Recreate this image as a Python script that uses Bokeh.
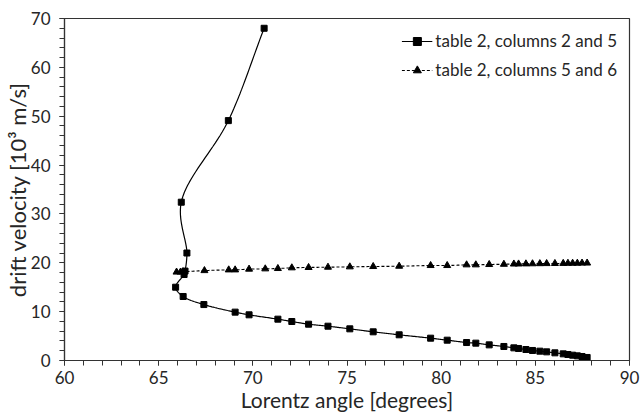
import numpy as np
from bokeh.plotting import figure
from bokeh.models import SingleIntervalTicker, Range1d
from bokeh.embed import file_html
from bokeh.resources import INLINE

# Series 1: table 2, columns 2 and 5 (Lorentz angle [deg], drift velocity [10^3 m/s])
s1_angle = [70.6, 68.7, 66.2, 66.5, 66.4, 66.35, 65.9, 66.3, 67.4, 69.06, 69.8,
            71.33, 72.07, 72.96, 73.99, 75.15, 76.39, 77.77, 79.44, 80.32, 81.35,
            81.84, 82.55, 83.33, 83.86, 84.11, 84.5, 84.85, 85.24, 85.6, 86.04,
            86.48, 86.73, 86.98, 87.23, 87.48, 87.75]
s1_vel = [68.0, 49.1, 32.4, 22.0, 18.3, 17.6, 15.0, 13.1, 11.45, 9.9, 9.35,
          8.46, 7.98, 7.43, 7.02, 6.48, 5.87, 5.26, 4.57, 4.16, 3.68,
          3.55, 3.2, 2.87, 2.59, 2.46, 2.25, 2.05, 1.91, 1.77, 1.57,
          1.36, 1.23, 1.09, 0.95, 0.82, 0.62]

# Series 2: table 2, columns 5 and 6
s2_angle = [65.95, 66.16, 66.3, 67.43, 68.72, 69.06, 69.8, 70.66, 71.33, 72.07,
            72.96, 73.99, 75.15, 76.39, 77.77, 79.44, 80.32, 81.35, 81.84, 82.55,
            83.33, 83.86, 84.11, 84.5, 84.85, 85.24, 85.6, 86.04, 86.48, 86.73,
            86.98, 87.23, 87.48, 87.75]
s2_vel = [18.1, 18.1, 18.15, 18.4, 18.55, 18.55, 18.7, 18.76, 18.83, 18.97,
          19.04, 19.1, 19.17, 19.24, 19.3, 19.44, 19.44, 19.58, 19.58, 19.65,
          19.7, 19.75, 19.76, 19.78, 19.8, 19.82, 19.84, 19.86, 19.88, 19.9,
          19.91, 19.92, 19.94, 19.95]

x_ticks_interval = 5
y_ticks_interval = 10

FONT = "Lato"
TXT = "#262626"


def smooth(xs, ys, n=24):
    """Spreadsheet-like smoothed line (centripetal Catmull-Rom in screen space)."""
    sx, sy = 18.83, 4.886  # approx px per data unit, for parameterisation only
    P = np.column_stack([np.asarray(xs) * sx, np.asarray(ys) * sy]).astype(float)
    m = len(P)
    out = [P[0]]
    for i in range(m - 1):
        p1 = P[i]
        p2 = P[i + 1]
        p0 = P[i - 1] if i > 0 else 2 * p1 - p2
        p3 = P[i + 2] if i + 2 < m else 2 * p2 - p1
        d01 = max(np.linalg.norm(p1 - p0) ** 0.5, 1e-6)
        d12 = max(np.linalg.norm(p2 - p1) ** 0.5, 1e-6)
        d23 = max(np.linalg.norm(p3 - p2) ** 0.5, 1e-6)
        m1 = (p1 - p0) / d01 - (p2 - p0) / (d01 + d12) + (p2 - p1) / d12
        m2 = (p2 - p1) / d12 - (p3 - p1) / (d12 + d23) + (p3 - p2) / d23
        m1 *= d12
        m2 *= d12
        t = np.linspace(0, 1, n)[1:, None]
        h00 = 2 * t ** 3 - 3 * t ** 2 + 1
        h10 = t ** 3 - 2 * t ** 2 + t
        h01 = -2 * t ** 3 + 3 * t ** 2
        h11 = t ** 3 - t ** 2
        seg = h00 * p1 + h10 * m1 + h01 * p2 + h11 * m2
        out.extend(seg)
    out = np.array(out)
    return out[:, 0] / sx, out[:, 1] / sy


p = figure(width=641, height=420, output_backend="svg", toolbar_location=None,
           x_range=Range1d(60, 90), y_range=Range1d(0, 70),
           min_border_left=64, min_border_right=12, min_border_top=18, min_border_bottom=60)

p.xgrid.visible = False
p.ygrid.visible = False
p.outline_line_color = "#333333"
p.outline_line_width = 1.2
p.background_fill_color = "white"
p.border_fill_color = "white"

l1x, l1y = smooth(s1_angle, s1_vel)
l2x, l2y = smooth(s2_angle, s2_vel)

lab1 = "table 2, columns 2 and 5"
lab2 = "table 2, columns 5 and 6"

p.line(l1x, l1y, line_color="black", line_width=1.2, legend_label=lab1)
p.scatter(s1_angle, s1_vel, marker="square", size=6, fill_color="black",
          line_color="black", legend_label=lab1)

p.line(l2x, l2y, line_color="black", line_width=1.1, line_dash="3 2", legend_label=lab2)
p.scatter(s2_angle, s2_vel, marker="triangle", size=7, fill_color="black",
          line_color="black", legend_label=lab2)

p.xaxis.ticker = SingleIntervalTicker(interval=x_ticks_interval, num_minor_ticks=5)
p.yaxis.ticker = SingleIntervalTicker(interval=y_ticks_interval, num_minor_ticks=5)

for ax in (p.xaxis[0], p.yaxis[0]):
    ax.axis_line_color = "#333333"
    ax.axis_line_width = 1.2
    ax.major_tick_line_color = "#333333"
    ax.minor_tick_line_color = "#333333"
    ax.major_tick_in = 0
    ax.major_tick_out = 5
    ax.minor_tick_in = 0
    ax.minor_tick_out = 5
    ax.major_label_text_font = FONT
    ax.major_label_text_font_size = "17px"
    ax.major_label_text_color = TXT
    ax.axis_label_text_font = FONT
    ax.axis_label_text_font_style = "normal"
    ax.axis_label_text_color = TXT

p.xaxis.axis_label = "Lorentz angle [degrees]"
p.yaxis.axis_label = "drift velocity [10³ m/s]"
p.xaxis.axis_label_text_font_size = "21px"
p.yaxis.axis_label_text_font_size = "22px"
p.xaxis.major_label_standoff = 5
p.xaxis.axis_label_standoff = 0
p.yaxis.major_label_standoff = 9
p.yaxis.axis_label_standoff = -3

lg = p.legend[0]
lg.location = "top_right"
lg.border_line_color = None
lg.background_fill_alpha = 0
lg.label_text_font = FONT
lg.label_text_font_size = "17px"
lg.label_text_color = TXT
lg.glyph_width = 31
lg.glyph_height = 20
lg.label_standoff = 3
lg.spacing = 8
lg.margin = 12
lg.padding = 8

open("out.html", "w").write(file_html(p, INLINE))
